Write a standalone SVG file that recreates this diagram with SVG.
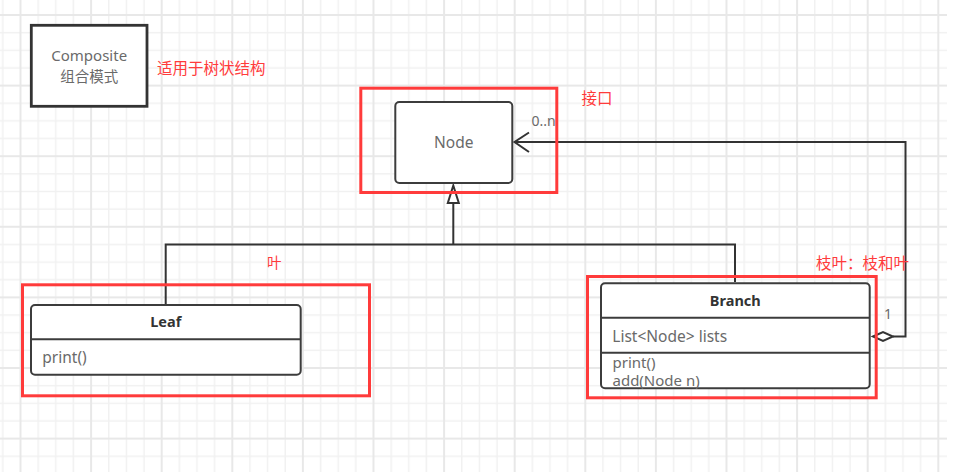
<svg xmlns="http://www.w3.org/2000/svg" width="954" height="472" viewBox="0 0 954 472">
<style>
.t{font-family:"Noto Sans","Noto Sans CJK SC",sans-serif;font-size:15.5px;fill:#6a6a6a}
.b{font-family:"Noto Sans","Noto Sans CJK SC",sans-serif;font-size:14.5px;font-weight:bold;fill:#333}
.cjk{font-family:"Noto Sans CJK SC","Noto Sans",sans-serif;font-size:14.5px;fill:#6a6a6a}
.red{font-family:"Noto Sans CJK SC",sans-serif;font-size:15.5px;fill:#ff3b3b}
.box{fill:#fff;stroke:#3c3c3c;stroke-width:2}
.div{stroke:#3c3c3c;stroke-width:2}
.hl{fill:none;stroke:#ff3b3b;stroke-width:3}
.con{fill:none;stroke:#333;stroke-width:2}
</style>
<defs>
<pattern id="grid" patternUnits="userSpaceOnUse" x="19.5" y="14" width="70.6" height="70.6">
<path d="M1,0V70.6M18.65,0V70.6M36.3,0V70.6M53.95,0V70.6M0,1H70.6M0,18.65H70.6M0,36.3H70.6M0,53.95H70.6" stroke="#f1f1f1" stroke-width="1.5" fill="none"/>
<path d="M1,0V70.6M0,1H70.6" stroke="#e8e8e8" stroke-width="2" fill="none"/>
</pattern>
</defs>
<rect width="954" height="472" fill="#fff"/>
<rect width="947" height="472" fill="url(#grid)"/>

<g id="connectors">
<path class="con" d="M165.7,304V244.5H735V282"/>
<path class="con" d="M453.3,244.5V203"/>
<polygon points="453.3,185.5 447.8,203 458.8,203" fill="#fff" stroke="#333" stroke-width="2" stroke-linejoin="miter"/>
<path class="con" d="M893,336.5H905.5V142H515"/>
<polyline class="con" points="529,132.5 514.5,142 529,152"/>
<polygon points="873,336.5 883,332 893,336.5 883,341" fill="#fff" stroke="#333" stroke-width="2"/>
<text class="t" x="531.5" y="125.5" style="font-size:14px">0..n</text>
<text class="t" x="884" y="318.5" style="font-size:14px">1</text>
</g>

<g id="composite">
<rect x="31.3" y="25.3" width="115.7" height="81" fill="#fff" stroke="#333" stroke-width="2.8"/>
<text class="t" x="89.2" y="60.5" text-anchor="middle" style="font-size:15px">Composite</text>
<text class="cjk" x="89.2" y="81.5" text-anchor="middle">组合模式</text>
</g>
<text id="note-composite" class="red" x="157" y="74">适用于树状结构</text>

<g id="node">
<rect class="box" x="395.3" y="102" width="117" height="81" rx="4"/>
<text class="t" x="453.8" y="148.3" text-anchor="middle">Node</text>
</g>

<g id="leaf">
<rect class="box" x="31" y="305" width="269.7" height="69.7" rx="4"/>
<line class="div" x1="31" y1="339.3" x2="300.7" y2="339.3"/>
<text class="b" x="165.8" y="327.3" text-anchor="middle">Leaf</text>
<text class="t" x="42.3" y="362.7">print()</text>
</g>

<g id="branch">
<rect class="box" x="601" y="283.3" width="268.7" height="105" rx="4"/>
<line class="div" x1="601" y1="317.7" x2="869.7" y2="317.7"/>
<line class="div" x1="601" y1="352.7" x2="869.7" y2="352.7"/>
<text class="b" x="735.3" y="306" text-anchor="middle">Branch</text>
<text class="t" x="612.3" y="341.5">List&lt;Node&gt; lists</text>
<text class="t" x="612.5" y="367.8" style="font-size:15px">print()</text>
<text class="t" x="612.5" y="386" style="font-size:15px">add(Node n)</text>
</g>

<g id="highlights">
<rect class="hl" x="360.8" y="88.2" width="196" height="104.3"/>
<rect class="hl" x="22.5" y="284.8" width="347" height="111"/>
<rect class="hl" x="587.5" y="276.5" width="288.7" height="121.3"/>
</g>
<text id="note-node" class="red" x="581.5" y="104">接口</text>
<text id="note-leaf" class="red" x="267" y="268" style="font-size:14.5px">叶</text>
<text id="note-branch" class="red" x="816" y="268.5">枝叶：枝和叶</text>
</svg>
